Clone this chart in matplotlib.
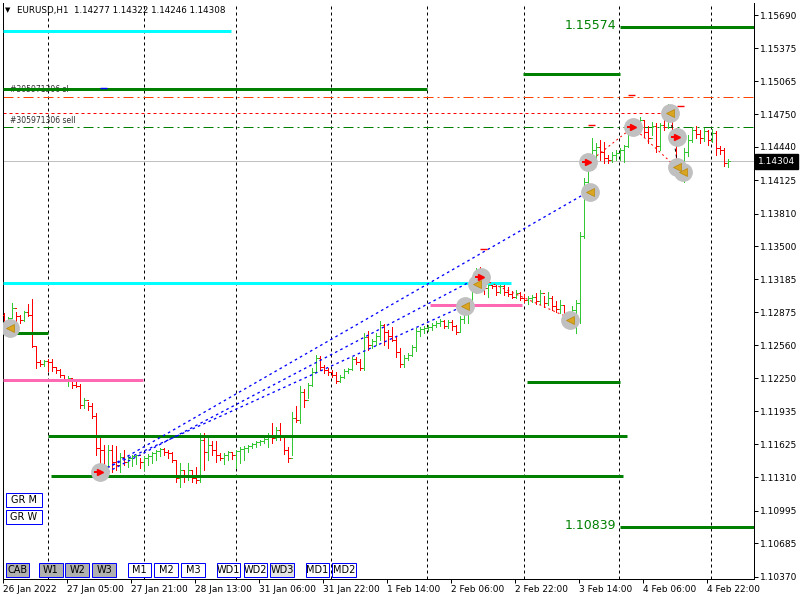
import matplotlib
matplotlib.use('Agg')
import matplotlib.pyplot as plt
from matplotlib.patches import Rectangle
import numpy as np

# ---------------- data (EURUSD H1) ----------------
first_open = 1.12849
highs = [
1.12868, 1.12830, 1.12963, 1.12877, 1.12849, 1.12887, 1.12953, 1.13001, 1.12555, 1.12423,
1.12423, 1.12433, 1.12433, 1.12347, 1.12338, 1.12281, 1.12272, 1.12215, 1.12215, 1.12196,
1.12063, 1.12025, 1.12016, 1.11921, 1.11703, 1.11618, 1.11618, 1.11618, 1.11609, 1.11542,
1.11571, 1.11514, 1.11524, 1.11524, 1.11495, 1.11514, 1.11533, 1.11552, 1.11571, 1.11590,
1.11590, 1.11571, 1.11552, 1.11476, 1.11447, 1.11381, 1.11447, 1.11372, 1.11409, 1.11732,
1.11732, 1.11694, 1.11656, 1.11656, 1.11542, 1.11542, 1.11561, 1.11552, 1.11571, 1.11599,
1.11609, 1.11618, 1.11637, 1.11656, 1.11665, 1.11684, 1.11732, 1.11826, 1.11788, 1.11826,
1.11694, 1.11599, 1.11930, 1.11987, 1.12177, 1.12149, 1.12206, 1.12347, 1.12470, 1.12461,
1.12376, 1.12347, 1.12328, 1.12309, 1.12281, 1.12338, 1.12347, 1.12452, 1.12452, 1.12433,
1.12679, 1.12698, 1.12622, 1.12679, 1.12793, 1.12764, 1.12707, 1.12736, 1.12641, 1.12537,
1.12470, 1.12489, 1.12565, 1.12726, 1.12736, 1.12745, 1.12755, 1.12774, 1.12793, 1.12812,
1.12802, 1.12802, 1.12802, 1.12755, 1.12839, 1.12896, 1.12972, 1.13133, 1.13294, 1.13303,
1.13199, 1.13161, 1.13152, 1.13143, 1.13152, 1.13133, 1.13114, 1.13076, 1.13086, 1.13067,
1.13048, 1.13029, 1.13039, 1.13057, 1.13086, 1.13029, 1.13067, 1.13029, 1.12982, 1.12991,
1.12934, 1.12859, 1.12934, 1.12991, 1.13635, 1.14146, 1.14288, 1.14525, 1.14478, 1.14506,
1.14487, 1.14364, 1.14393, 1.14412, 1.14431, 1.14459, 1.14620, 1.14677, 1.14696, 1.14724,
1.14696, 1.14639, 1.14677, 1.14667, 1.14667, 1.14771, 1.14847, 1.14828, 1.14620, 1.14269,
1.14431, 1.14554, 1.14629, 1.14639, 1.14601, 1.14620, 1.14601, 1.14610, 1.14591, 1.14450,
1.14431, 1.14322]
lows = [
1.12755, 1.12736, 1.12830, 1.12726, 1.12774, 1.12793, 1.12839, 1.12546, 1.12347, 1.12366,
1.12366, 1.12319, 1.12319, 1.12300, 1.12262, 1.12225, 1.12177, 1.12158, 1.12168, 1.11968,
1.11968, 1.11949, 1.11874, 1.11524, 1.11409, 1.11362, 1.11428, 1.11362, 1.11381, 1.11362,
1.11428, 1.11409, 1.11419, 1.11438, 1.11400, 1.11381, 1.11428, 1.11447, 1.11476, 1.11514,
1.11524, 1.11495, 1.11457, 1.11268, 1.11220, 1.11268, 1.11287, 1.11268, 1.11258, 1.11268,
1.11381, 1.11476, 1.11524, 1.11457, 1.11476, 1.11438, 1.11476, 1.11485, 1.11400, 1.11447,
1.11476, 1.11552, 1.11590, 1.11599, 1.11618, 1.11637, 1.11599, 1.11637, 1.11665, 1.11665,
1.11533, 1.11457, 1.11524, 1.11836, 1.11826, 1.11978, 1.12063, 1.12177, 1.12309, 1.12328,
1.12300, 1.12281, 1.12262, 1.12206, 1.12215, 1.12253, 1.12300, 1.12328, 1.12385, 1.12328,
1.12328, 1.12518, 1.12537, 1.12565, 1.12612, 1.12565, 1.12537, 1.12603, 1.12452, 1.12357,
1.12357, 1.12423, 1.12461, 1.12508, 1.12650, 1.12679, 1.12698, 1.12707, 1.12736, 1.12745,
1.12726, 1.12726, 1.12707, 1.12669, 1.12688, 1.12774, 1.12774, 1.12915, 1.13057, 1.13114,
1.13048, 1.13020, 1.13105, 1.13039, 1.13057, 1.13039, 1.13029, 1.13010, 1.13010, 1.12991,
1.12972, 1.12953, 1.12972, 1.12953, 1.12953, 1.12925, 1.12944, 1.12896, 1.12877, 1.12868,
1.12812, 1.12764, 1.12745, 1.12679, 1.12774, 1.13578, 1.14080, 1.14222, 1.14298, 1.14317,
1.14288, 1.14288, 1.14298, 1.14317, 1.14317, 1.14298, 1.14440, 1.14554, 1.14554, 1.14601,
1.14535, 1.14478, 1.14554, 1.14393, 1.14412, 1.14601, 1.14620, 1.14554, 1.14175, 1.14127,
1.14108, 1.14355, 1.14487, 1.14525, 1.14478, 1.14497, 1.14459, 1.14487, 1.14364, 1.14374,
1.14260, 1.14246]
closes = [
1.12783, 1.12820, 1.12915, 1.12839, 1.12802, 1.12877, 1.12849, 1.12555, 1.12404, 1.12385,
1.12414, 1.12404, 1.12357, 1.12328, 1.12281, 1.12234, 1.12253, 1.12187, 1.12177, 1.11997,
1.12044, 1.11987, 1.11893, 1.11590, 1.11571, 1.11419, 1.11571, 1.11457, 1.11428, 1.11504,
1.11457, 1.11495, 1.11514, 1.11524, 1.11457, 1.11495, 1.11514, 1.11542, 1.11561, 1.11580,
1.11552, 1.11542, 1.11476, 1.11306, 1.11381, 1.11315, 1.11381, 1.11306, 1.11287, 1.11665,
1.11552, 1.11618, 1.11571, 1.11524, 1.11495, 1.11524, 1.11552, 1.11524, 1.11561, 1.11580,
1.11590, 1.11609, 1.11628, 1.11646, 1.11656, 1.11675, 1.11713, 1.11684, 1.11760, 1.11694,
1.11571, 1.11495, 1.11874, 1.11855, 1.12120, 1.12044, 1.12187, 1.12309, 1.12442, 1.12357,
1.12328, 1.12309, 1.12281, 1.12225, 1.12262, 1.12319, 1.12338, 1.12433, 1.12404, 1.12347,
1.12641, 1.12565, 1.12603, 1.12650, 1.12755, 1.12688, 1.12650, 1.12612, 1.12499, 1.12385,
1.12442, 1.12470, 1.12546, 1.12698, 1.12717, 1.12726, 1.12736, 1.12755, 1.12774, 1.12793,
1.12745, 1.12783, 1.12745, 1.12688, 1.12812, 1.12877, 1.12953, 1.13105, 1.13266, 1.13180,
1.13105, 1.13133, 1.13124, 1.13067, 1.13124, 1.13067, 1.13048, 1.13020, 1.13057, 1.13010,
1.12991, 1.13010, 1.13020, 1.12982, 1.13057, 1.12963, 1.13010, 1.12934, 1.12906, 1.12944,
1.12839, 1.12802, 1.12896, 1.12963, 1.13597, 1.14108, 1.14241, 1.14412, 1.14440, 1.14393,
1.14336, 1.14317, 1.14364, 1.14383, 1.14412, 1.14450, 1.14582, 1.14563, 1.14648, 1.14696,
1.14582, 1.14525, 1.14639, 1.14450, 1.14648, 1.14629, 1.14809, 1.14601, 1.14222, 1.14165,
1.14393, 1.14506, 1.14601, 1.14563, 1.14525, 1.14591, 1.14506, 1.14572, 1.14431, 1.14412,
1.14288, 1.14304]

title_text = "EURUSD,H1  1.14277 1.14322 1.14246 1.14308"
current_price = 1.14304

ytick_values = [1.15690, 1.15375, 1.15065, 1.14750, 1.14440, 1.14125, 1.13810, 1.13500,
                1.13185, 1.12875, 1.12560, 1.12250, 1.11935, 1.11625, 1.11310, 1.10995,
                1.10685, 1.10370]
ytick_labels = ["1.15690", "1.15375", "1.15065", "1.14750", "1.14440", "1.14125", "1.13810",
                "1.13500", "1.13185", "1.12875", "1.12560", "1.12250", "1.11935", "1.11625",
                "1.11310", "1.10995", "1.10685", "1.10370"]
xtick_bars = [-0.25, 15.75, 31.75, 47.75, 63.75, 79.75, 95.75, 111.75, 127.75, 143.75, 159.75, 175.75]
xtick_labels = ["26 Jan 2022", "27 Jan 05:00", "27 Jan 21:00", "28 Jan 13:00", "31 Jan 06:00",
                "31 Jan 22:00", "1 Feb 14:00", "2 Feb 06:00", "2 Feb 22:00", "3 Feb 14:00",
                "4 Feb 06:00", "4 Feb 22:00"]
day_separators = [11, 35, 58, 81.75, 105.75, 130, 153.75, 176.75]

# horizontal zone levels: price, start bar, end bar, colour
level_prices = [1.15538, 1.14989, 1.15574, 1.15131, 1.13152, 1.12944, 1.12679,
                1.12234, 1.12215, 1.11703, 1.11325, 1.10839]
level_start = [-0.25, -0.25, 154, 129.75, -0.25, 106.5, -0.25, -0.25, 130.75, 11, 11.75, 154]
level_end = [56.75, 105.75, 187.5, 154, 126.75, 129.5, 11, 34.75, 154, 155.75, 154.75, 187.5]
level_colors = ['#00ffff', '#008000', '#008000', '#008000', '#00ffff', '#ff69b4', '#008000',
                '#ff69b4', '#008000', '#008000', '#008000', '#008000']
labelled_levels = [1.15574, 1.10839]

# order lines
sl_price = 1.14913
tp_price = 1.14762
sell_price = 1.14629
order_id = "#305971306"

# trade connection lines (bar, price) pairs
blue_lines = [((24.5, 1.11372), (146.0, 1.14014)),
              ((24.5, 1.11334), (119.25, 1.13218)),
              ((24.5, 1.11381), (115.5, 1.12944))]
red_lines = [((119.0, 1.13199), (140.75, 1.12830)),
             ((146.25, 1.14298), (157.25, 1.14629)),
             ((157.25, 1.14629), (168.25, 1.14241))]
black_lines = [((166.5, 1.14762), (168.5, 1.14241))]

# trade markers
circle_bars = [1.5, 24, 115.25, 118.25, 119.25, 141.5, 146.5, 146, 157.25, 166.5, 168.25, 168.25, 169.75]
circle_prices = [1.12726, 1.11362, 1.12934, 1.13143, 1.13209, 1.12802, 1.14014, 1.14298,
                 1.14629, 1.14762, 1.14535, 1.14250, 1.14203]
tri_bars = [1.5, 115.25, 118.25, 141.5, 146.5, 166.5, 168.25, 169.75]
tri_prices = [1.12726, 1.12934, 1.13143, 1.12802, 1.14014, 1.14762, 1.14250, 1.14203]
arrow_bars = [24, 119.25, 146, 157.25, 168.25]
arrow_prices = [1.11362, 1.13209, 1.14298, 1.14629, 1.14535]
dash_bars = [119, 146, 156, 168.25]
dash_prices = [1.13474, 1.14648, 1.14932, 1.14828]

buttons = [("CAB", 5.7, 28.7, 563, 577, '#b0b0b0'), ("W1", 38.7, 62.7, 563, 577, '#b0b0b0'),
           ("W2", 65.3, 89.3, 563, 577, '#b0b0b0'), ("W3", 92.3, 116.3, 563, 577, '#b0b0b0'),
           ("M1", 127.7, 150.7, 563, 577, 'white'), ("M2", 154.3, 178.3, 563, 577, 'white'),
           ("M3", 181.3, 205, 563, 577, 'white'), ("WD1", 216.7, 240, 563, 577, 'white'),
           ("WD2", 243.7, 267, 563, 577, 'white'), ("WD3", 270.3, 293.7, 563, 577, '#e4e4e4'),
           ("MD1", 305.7, 329, 563, 577, 'white'), ("MD2", 332.3, 356, 563, 577, 'white'),
           ("GR M", 5.7, 41.7, 493, 507, 'white'), ("GR W", 5.7, 41.7, 510, 524, 'white')]

# ---------------- figure ----------------
W, H = 800, 600
fig = plt.figure(figsize=(8, 6), dpi=100)
fig.patch.set_facecolor('white')
PX = 0.72  # one pixel in points


def fx(x):
    return x / W


def fy(y):
    return 1 - y / H


ax = fig.add_axes([fx(3), fy(579), fx(754) - fx(3), fy(3) - fy(579)])
ax.set_xlim(-0.25, 187.5)
ax.set_ylim(1.10348, 1.15804)
ax.set_facecolor('white')

# separators
ax.vlines(day_separators, 1.10348, 1.15804, colors='black', lw=PX,
          linestyles=(0, (3, 3)), zorder=1)

# current price line
ax.axhline(current_price, color='#c0c0c0', lw=PX, zorder=1)

# order lines
ax.axhline(sl_price, color='#ff4500', lw=PX, linestyle=(0, (10, 4, 2, 4)), zorder=2)
ax.hlines(tp_price, -0.25, 165.25, color='#ff0000', lw=PX, linestyles=(0, (3, 3)), zorder=2)
ax.axhline(sell_price, color='#008000', lw=PX, linestyle=(0, (10, 4, 2, 4)), zorder=2)

# OHLC bars
n = len(closes)
idx = np.arange(n)
closes_a = np.array(closes)
opens_a = np.array([first_open] + closes[:-1])
up = closes_a >= opens_a
bar_colors = np.where(up, '#33c833', '#ff0000')
ax.vlines(idx, lows, highs, colors=bar_colors, lw=PX, antialiased=False, zorder=3)
ax.hlines(opens_a, idx - 0.4, idx, colors=bar_colors, lw=PX, antialiased=False, zorder=3)
ax.hlines(closes_a, idx, idx + 0.4, colors=bar_colors, lw=PX, antialiased=False, zorder=3)

# zone levels
for p, s, e, c in zip(level_prices, level_start, level_end, level_colors):
    ax.hlines(p, s, e, colors=c, lw=3 * PX, zorder=4, capstyle='butt')
for p in labelled_levels:
    ax.annotate(f"{p:.5f}", xy=(140.25, p), xytext=(0, 2), textcoords='offset pixels',
                color='#008000', fontsize=9, va='center', ha='left', zorder=5)

# order labels
ax.annotate(order_id + " sl", xy=(1.5, sl_price), xytext=(0, 3), textcoords='offset pixels',
            fontsize=5.5, color='#303030', va='bottom', ha='left', zorder=2)
ax.annotate(order_id + " sell", xy=(1.5, sell_price), xytext=(0, 2), textcoords='offset pixels',
            fontsize=5.5, color='#303030', va='bottom', ha='left', zorder=2)

# trade lines
for (a, b) in blue_lines:
    ax.plot([a[0], b[0]], [a[1], b[1]], color='#0000ff', lw=1.3 * PX, linestyle=(0, (2, 2.5)),
            zorder=5)
for (a, b) in red_lines:
    ax.plot([a[0], b[0]], [a[1], b[1]], color='#ff0000', lw=PX, linestyle=(0, (2, 3)), zorder=5)
for (a, b) in black_lines:
    ax.plot([a[0], b[0]], [a[1], b[1]], color='#000000', lw=PX, linestyle=(0, (3, 3)), zorder=5)
for b, p in zip(dash_bars, dash_prices):
    ax.hlines(p, b, b + 1.75, colors='#ff0000', lw=1.4 * PX, zorder=5)
ax.hlines(1.14999, 24, 25.75, colors='#0000ff', lw=1.4 * PX, zorder=5)

# markers
ax.plot(circle_bars, circle_prices, 'o', ms=12.5, color='#c0c0c0', mec='#c0c0c0', zorder=6)
ax.plot(tri_bars, tri_prices, '<', ms=5.5, color='#daa520', mec='#b8860b', mew=0.5, zorder=7)
ax.plot(arrow_bars, arrow_prices, '>', ms=5, color='#ff0000', mec='#ff0000', zorder=7)
for b, p in zip(arrow_bars, arrow_prices):
    ax.hlines(p, b - 1.6, b, colors='#ff0000', lw=2 * PX, zorder=7)

# axes styling
ax.spines['top'].set_visible(False)
for s in ['left', 'right', 'bottom']:
    ax.spines[s].set_linewidth(PX)
    ax.spines[s].set_color('black')
ax.yaxis.tick_right()
ax.set_yticks(ytick_values)
ax.set_yticklabels(ytick_labels)
ax.set_xticks(xtick_bars)
ax.set_xticklabels(xtick_labels)
ax.tick_params(axis='both', direction='out', length=3, width=PX, labelsize=6.5,
               colors='black', pad=1.5)
for lab in ax.get_xticklabels():
    lab.set_horizontalalignment('left')

# current price label box
ax.annotate(f"{current_price:.5f}", xy=(1.0, current_price), xycoords=('axes fraction', 'data'),
            xytext=(4, 0), textcoords='offset pixels', va='center', ha='left', color='white',
            fontsize=6.5, bbox=dict(boxstyle='square,pad=0.3', fc='black', ec='black'), zorder=10,
            annotation_clip=False)

# title
fig.text(fx(5), fy(10), "\u25bc", fontsize=5, va='center', ha='left', color='black')
fig.text(fx(17), fy(10), title_text, fontsize=6.3, va='center', ha='left', color='black')

# buttons
for label, x0, x1, y0, y1, fc in buttons:
    r = Rectangle((fx(x0), fy(y1)), fx(x1) - fx(x0), fy(y0) - fy(y1), transform=fig.transFigure,
                  facecolor=fc, edgecolor='#0000ff', lw=PX, zorder=20)
    fig.patches.append(r)
    fig.text(fx((x0 + x1) / 2), fy((y0 + y1) / 2), label, fontsize=7, va='center', ha='center',
             color='black', zorder=21)

fig.savefig('out.png', dpi=100, facecolor='white')
